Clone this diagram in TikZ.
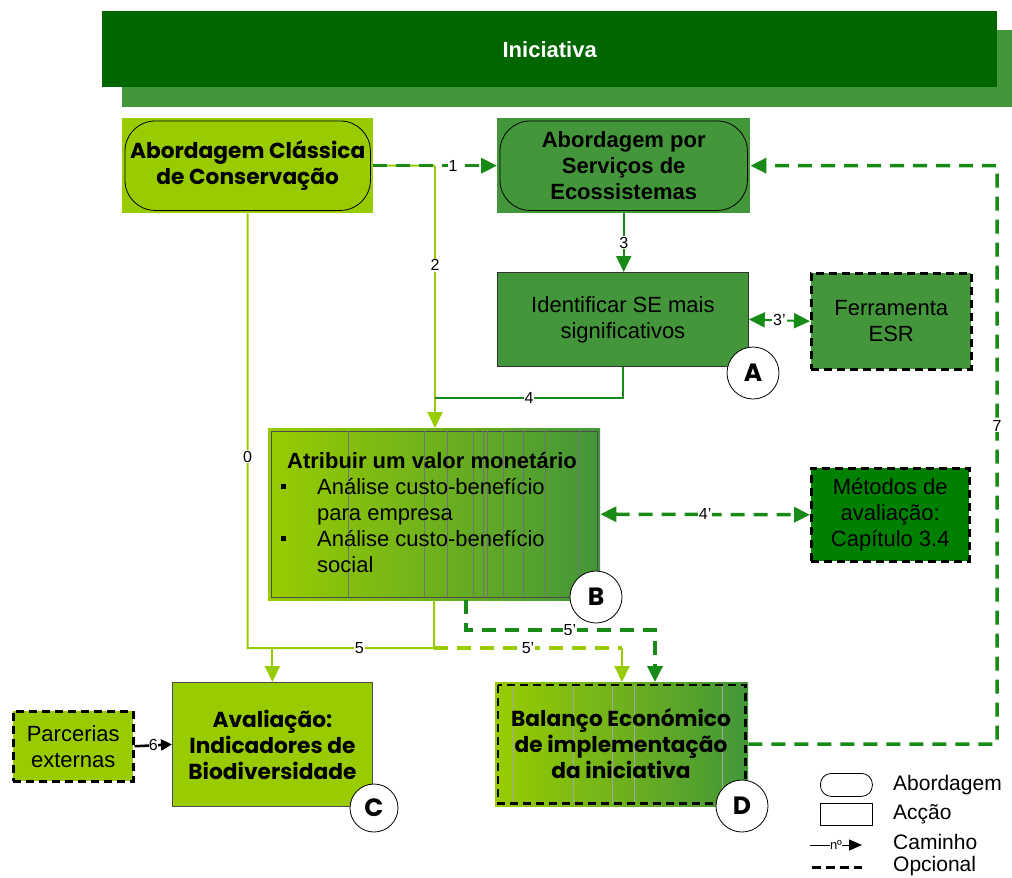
\documentclass[tikz,border=0pt]{standalone}
\usepackage{fontspec}
\setmainfont{Liberation Sans}
\newfontfamily\gothic{Poppins}
\usetikzlibrary{arrows.meta,calc}
\definecolor{lgreen}{HTML}{99CC00}
\definecolor{mgreen}{HTML}{43963A}
\definecolor{dgreen}{HTML}{006600}
\definecolor{agreen}{HTML}{178A17}
\definecolor{mfill}{HTML}{008000}
\tikzset{
  box/.style={anchor=north west, inner sep=0pt, align=center, font=\fontsize{22}{26}\selectfont},
  gbold/.style={font=\gothic\bfseries\fontsize{21.7}{26}\selectfont},
  optbox/.style={draw=black, line width=2.5pt, dash pattern=on 8pt off 5pt},
  lbl/.style={fill=white, text=black, inner sep=1pt, font=\fontsize{16}{16}\selectfont},
  sline/.style={line width=2pt},
  dline/.style={line width=3.5pt, dash pattern=on 14pt off 9pt},
  tip/.style={-{Triangle[length=16pt,width=15pt]}},
  dtip/.style={{Triangle[length=16pt,width=15pt]}-{Triangle[length=16pt,width=15pt]}},
  circ/.style={circle, draw, fill=white, minimum size=52pt, inner sep=0pt, line width=0.8pt, font=\gothic\bfseries\fontsize{25}{25}\selectfont},
  legtxt/.style={anchor=west, inner sep=0pt, font=\fontsize{21}{21}\selectfont},
}
\begin{document}
\begin{tikzpicture}[x=1pt,y=-1pt]
\useasboundingbox (0,0) rectangle (1012,878);
% banner
\fill[mgreen] (122,30) rectangle (1012,107);
\node[box, fill=dgreen, minimum width=895pt, minimum height=76pt, text=white, font=\bfseries\fontsize{22}{26}\selectfont] (ban) at (102,11) {Iniciativa};

% Abordagem classica
\node[box, gbold, fill=lgreen, minimum width=251pt, minimum height=95pt] (cc) at (122,118) {Abordagem Clássica\\de Conservação};
\draw[rounded corners=30pt, line width=0.8pt] ([xshift=3pt,yshift=-3pt]cc.north west) rectangle ([xshift=-3pt,yshift=3pt]cc.south east);

% Abordagem SE
\node[box, fill=mgreen, minimum width=253pt, minimum height=95pt, font=\bfseries\fontsize{22}{26}\selectfont] (se) at (497,118) {Abordagem por\\Serviços de\\Ecossistemas};
\draw[rounded corners=30pt, line width=0.8pt] ([xshift=3pt,yshift=-3pt]se.north west) rectangle ([xshift=-3pt,yshift=3pt]se.south east);

% Identificar
\node[box, fill=mgreen, draw=black!80, line width=0.8pt, minimum width=251pt, minimum height=94pt] (id) at (497,272) {Identificar SE mais\\significativos};
\node[circ] (ca) at (753,373) {A};

% Ferramenta
\node[box, optbox, fill=mgreen, minimum width=160pt, minimum height=96pt] (fe) at (810,272) {Ferramenta\\ESR};

% Atribuir
\node[box, left color=lgreen, right color=mgreen, minimum width=332pt, minimum height=172pt] (atr) at (268,428) {};
\draw[black!70, line width=0.6pt] ([xshift=3pt,yshift=-3pt]atr.north west) rectangle ([xshift=-3pt,yshift=3pt]atr.south east);
\foreach \vx in {348,424,447,473,483,487,503,523,545,579}
  \draw[black!55, line width=0.5pt] (\vx,431) -- (\vx,597);
\node[anchor=north west, inner sep=0pt, align=left, font=\fontsize{22}{26}\selectfont] (atrtxt) at (281,452)
 {\hspace{6pt}{\bfseries Atribuir um valor monetário}\\
  \makebox[36pt][l]{\raisebox{5pt}{\rule{5pt}{5pt}}}Análise custo-benefício\\
  \hspace{36pt}para empresa\\
  \makebox[36pt][l]{\raisebox{5pt}{\rule{5pt}{5pt}}}Análise custo-benefício\\
  \hspace{36pt}social};
\node[circ] (cb) at (596,597) {B};

% Metodos
\node[box, optbox, fill=mfill, minimum width=158pt, minimum height=93pt] (me) at (810,467) {Métodos de\\avaliação:\\Capítulo 3.4};

% Avaliacao
\node[box, gbold, fill=lgreen, draw=black!70, line width=0.8pt, minimum width=200pt, minimum height=124pt] (av) at (172,682) {Avaliação:\\Indicadores de\\Biodiversidade};
\node[circ, minimum size=48pt] (cc2) at (374,808) {C};

% Parcerias
\node[box, optbox, fill=lgreen, minimum width=120pt, minimum height=70pt] (pa) at (12,710) {Parcerias\\externas};

% Balanco
\node[box, left color=lgreen, right color=mgreen, minimum width=253pt, minimum height=124pt] (bal) at (495,682) {};
\foreach \vx in {513,573,612,634,722}
  \draw[black!35, line width=0.4pt] (\vx,685) -- (\vx,803);
\draw[optbox] ([xshift=3pt,yshift=-3pt]bal.north west) rectangle ([xshift=-3pt,yshift=3pt]bal.south east);
\node[gbold, align=center, inner sep=0pt] (baltxt) at (621,744) {Balanço Económico\\de implementação\\da iniciativa};
\node[circ] (cd) at (742,806) {D};

% connectors
\coordinate (j2) at (435,165.5);
\draw[sline, lgreen] (cc.east) -- (j2);
\draw[sline, lgreen, tip] (j2) -- node[lbl, pos=0.38] {2} (j2 |- atr.north);
\draw[dline, agreen, tip] (cc.east) -- (se.west);
\node[lbl] (l1) at (453,165.5) {1};
\draw[sline, agreen, tip] (se.south) -- node[lbl] {3} (se.south |- id.north);
\draw[sline, agreen, dtip] (id.east) -- node[lbl] {3'} (fe.west);
\coordinate (j4) at (435,398);
\draw[sline, agreen] (id.south) |- node[lbl, pos=0.75] {4} (j4);
\coordinate (j0) at (247.5,648);
\coordinate (j5) at (434,648);
\draw[sline, lgreen] (cc.south) -- node[lbl, pos=0.56] {0} (j0) -- node[lbl, pos=0.6] {5} (j5);
\draw[sline, lgreen] (atr.south) -- (j5);
\draw[sline, lgreen, tip] (j0 -| av.north) -- (av.north);
\coordinate (j5b) at (622,648);
\draw[dline, lgreen] (j5) -- node[lbl, pos=0.5] {5'} (j5b);
\draw[sline, lgreen, tip] (j5b) -- (j5b |- bal.north);
\coordinate (d5a) at (466,600);
\coordinate (d5b) at (466,630);
\coordinate (d5c) at (655,630);
\draw[dline, agreen, tip] (d5a) -- (d5b) -- node[lbl, pos=0.55] {5'} (d5c) -- (d5c |- bal.north);
\draw[dline, agreen, dtip] (atr.east) -- node[lbl] {4'} (me.west);
\draw[line width=2.5pt, black, -{Triangle[length=11pt,width=11pt]}] (pa.east) -- node[lbl, inner sep=0pt] {6} (av.west);
\coordinate (c7a) at (997,744);
\coordinate (c7b) at (997,165.5);
\draw[dline, agreen, tip] (bal.east) -- (c7a) -- node[lbl, pos=0.55] {7} (c7b) -- (se.east);

% legend
\node[draw, line width=0.8pt, rounded corners=11pt, fill=white, minimum width=52pt, minimum height=23pt, anchor=north west] (lg1) at (820,773) {};
\node[legtxt] (lt1) at (893,785) {Abordagem};
\node[draw, line width=0.6pt, fill=white, minimum width=52pt, minimum height=22pt, anchor=north west] (lg2) at (820,803) {};
\node[legtxt] (lt2) at (893,814) {Acção};
\coordinate (lg3a) at (810,845);
\coordinate (lg3b) at (862,845);
\draw[line width=1pt, -{Triangle[length=13pt,width=11pt]}] (lg3a) -- node[fill=white, inner sep=0.5pt, font=\fontsize{13}{13}\selectfont] {nº} (lg3b);
\node[legtxt] (lt3) at (893,842) {Caminho};
\coordinate (lg4a) at (812,867);
\coordinate (lg4b) at (862,867);
\draw[line width=3pt, dash pattern=on 9pt off 5pt] (lg4a) -- (lg4b);
\node[legtxt] (lt4) at (893,866) {Opcional};
\end{tikzpicture}
\end{document}
